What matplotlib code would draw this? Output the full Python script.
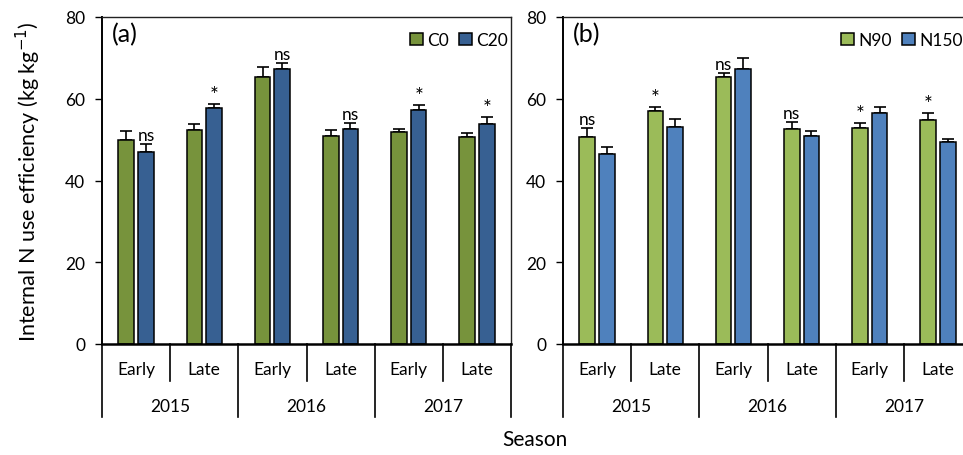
import numpy as np
import matplotlib
matplotlib.use('Agg')
import matplotlib.pyplot as plt
from matplotlib.transforms import blended_transform_factory

plt.rcParams['font.family'] = ['Lato', 'DejaVu Sans']
plt.rcParams['font.size'] = 12

### Data: internal N use efficiency (kg kg-1) by season
years = ['2015', '2016', '2017']
seasons = ['Early', 'Late', 'Early', 'Late', 'Early', 'Late']

# panel (a): straw treatment
c0_mean = [50.0, 52.4, 65.3, 50.9, 51.9, 50.6]
c0_se = [2.1, 1.4, 2.4, 1.5, 0.8, 1.1]
c20_mean = [47.0, 57.7, 67.4, 52.5, 57.3, 53.8]
c20_se = [1.9, 1.0, 1.4, 1.6, 1.2, 1.8]
sig_a = ['ns', '*', 'ns', 'ns', '*', '*']

# panel (b): N rate
n90_mean = [50.7, 57.0, 65.3, 52.6, 52.8, 54.9]
n90_se = [2.1, 1.0, 1.1, 1.8, 1.2, 1.6]
n150_mean = [46.4, 53.2, 67.4, 50.8, 56.4, 49.5]
n150_se = [1.8, 1.9, 2.5, 1.3, 1.6, 0.7]
sig_b = ['ns', '*', 'ns', 'ns', '*', '*']

W, H = 963, 456
fig = plt.figure(figsize=(W/100, H/100), dpi=100)

def draw_panel(ax, m1, e1, m2, e2, col1, col2, lab1, lab2, sig, sig_bar, tag, leg_x):
    x = np.arange(len(m1)) + 0.5
    bw = 0.23
    off = 0.145
    ekw = dict(ecolor='black', elinewidth=1.2, capsize=4, capthick=1.2)
    ax.bar(x - off, m1, bw, color=col1, edgecolor='black', linewidth=1.1,
           label=lab1, zorder=2)
    ax.errorbar(x - off, m1, yerr=[np.zeros(len(e1)), e1], fmt='none', zorder=1, **ekw)
    ax.bar(x + off, m2, bw, color=col2, edgecolor='black', linewidth=1.1,
           label=lab2, zorder=2)
    ax.errorbar(x + off, m2, yerr=[np.zeros(len(e2)), e2], fmt='none', zorder=1, **ekw)

    # significance marks sit above the error bar of one of the bars
    if sig_bar == 0:
        sx, top = x - off, np.array(m1) + np.array(e1)
    else:
        sx, top = x + off, np.array(m2) + np.array(e2)
    for xi, ti, s in zip(sx, top, sig):
        if s == '*':
            ax.text(xi, ti - 0.2, s, ha='center', va='bottom', fontsize=15)
        else:
            ax.text(xi, ti + 0.2, s, ha='center', va='bottom', fontsize=12.5)

    ax.set_xlim(0, len(m1))
    ax.set_ylim(0, 80)
    ax.set_yticks([0, 20, 40, 60, 80])
    ax.tick_params(axis='y', direction='out', length=5, width=1, labelsize=12.5, pad=7)
    ax.set_xticks([])
    for side in ['top', 'right']:
        ax.spines[side].set_linewidth(1.0)
        ax.spines[side].set_color('#222222')
    ax.spines['left'].set_linewidth(1.4)
    ax.spines['bottom'].set_linewidth(1.8)

    # two-level category axis
    tr = blended_transform_factory(ax.transData, ax.transAxes)
    for i in range(len(m1) + 1):
        depth = -0.223 if i % 2 == 0 else -0.113
        ax.plot([i, i], [0, depth], color='black', lw=1.2, transform=tr, clip_on=False)
    for i, s in enumerate(seasons):
        ax.text(i + 0.5, -0.076, s, transform=tr, ha='center', va='center', fontsize=12.5)
    for j, yr in enumerate(years):
        ax.text(2 * j + 1, -0.19, yr, transform=tr, ha='center', va='center', fontsize=12.5)

    ax.text(0.025, 0.985, tag, transform=ax.transAxes, ha='left', va='top', fontsize=18)
    ax.legend(loc='upper right', bbox_to_anchor=(leg_x, 0.975), ncol=2, frameon=False,
              handlelength=0.75, handleheight=0.75, handletextpad=0.25,
              columnspacing=0.6, fontsize=12.5, borderaxespad=0.0)

ax1 = fig.add_axes([102/W, (H-345)/H, 409/W, 327/H])
draw_panel(ax1, c0_mean, c0_se, c20_mean, c20_se, '#77933C', '#376092',
           'C0', 'C20', sig_a, 1, '(a)', 1.01)
ax1.set_ylabel('Internal N use efficiency (kg kg$^{-1}$)', fontsize=15.5)
ax1.yaxis.set_label_coords(-0.145, 0.5)

ax2 = fig.add_axes([563/W, (H-345)/H, 409/W, 327/H])
draw_panel(ax2, n90_mean, n90_se, n150_mean, n150_se, '#9BBB59', '#4F81BD',
           'N90', 'N150', sig_b, 0, '(b)', 0.995)

fig.text(535/W, (H-440)/H, 'Season', ha='center', va='center', fontsize=15)

fig.savefig('out.png', dpi=100)
